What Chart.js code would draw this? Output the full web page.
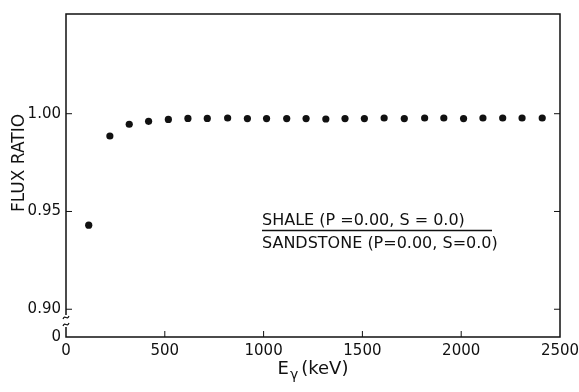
<!DOCTYPE html>
<html>
<head>
<meta charset="utf-8">
<script src="https://cdn.jsdelivr.net/npm/chart.js@4.4.1/dist/chart.umd.min.js"></script>
<style>
  html, body { margin: 0; padding: 0; background: #fff; }
  #wrap { width: 579px; height: 392px; }
</style>
</head>
<body>
<div id="wrap"><canvas id="flux"></canvas></div>
<script>
// Gamma energy (keV) and shale/sandstone flux ratio
const energies = [115, 222, 320, 418, 518, 617, 715, 818, 918, 1015, 1117, 1215,
  1315, 1412, 1510, 1610, 1712, 1815, 1912, 2012, 2110, 2210, 2308, 2410];
const fluxRatio = [0.943, 0.9886, 0.9946, 0.9961, 0.9971, 0.9976, 0.9976, 0.9978,
  0.9975, 0.9975, 0.9975, 0.9975, 0.9973, 0.9975, 0.9975, 0.9978, 0.9975, 0.9978,
  0.9978, 0.9975, 0.9978, 0.9978, 0.9978, 0.9978];

const xTicks = [0, 500, 1000, 1500, 2000, 2500];
const yTicks = [0.90, 0.95, 1.00];
const yBottom = 0.8858;   // broken axis: bottom edge is labelled 0
const yTop = 1.051;

const ink = '#111';
const FONT = "'DejaVu Sans', sans-serif";

// frame, inward tick marks, axis break, ratio caption, axis titles
const decorations = {
  id: 'decorations',
  afterDraw(chart) {
    const { ctx, chartArea: a, scales: { x, y } } = chart;
    ctx.save();
    ctx.strokeStyle = ink;
    ctx.lineWidth = 1.5;

    const gapTop = a.bottom - 22, gapBot = a.bottom - 10;
    ctx.beginPath();
    ctx.moveTo(a.left, gapBot);
    ctx.lineTo(a.left, a.bottom);
    ctx.lineTo(a.right, a.bottom);
    ctx.lineTo(a.right, a.top);
    ctx.lineTo(a.left, a.top);
    ctx.lineTo(a.left, gapTop);
    ctx.stroke();

    // break squiggles
    ctx.lineWidth = 1.2;
    [gapTop + 2, gapBot - 3].forEach(yy => {
      ctx.beginPath();
      ctx.moveTo(a.left - 3, yy + 2);
      ctx.bezierCurveTo(a.left - 1, yy - 3, a.left + 1, yy + 4, a.left + 3, yy - 1);
      ctx.stroke();
    });

    ctx.lineWidth = 1;
    ctx.beginPath();
    xTicks.slice(1, -1).forEach(v => {
      const px = x.getPixelForValue(v);
      ctx.moveTo(px, a.bottom);
      ctx.lineTo(px, a.bottom - 6);
    });
    yTicks.forEach(v => {
      const py = y.getPixelForValue(v);
      ctx.moveTo(a.left, py);
      ctx.lineTo(a.left + 6, py);
      ctx.moveTo(a.right, py);
      ctx.lineTo(a.right - 6, py);
    });
    ctx.stroke();

    // ratio caption
    ctx.fillStyle = ink;
    ctx.font = '16px ' + FONT;
    ctx.textBaseline = 'middle';
    ctx.textAlign = 'left';
    const cx = 262;
    ctx.fillText('SHALE (P =0.00, S = 0.0)', cx, 221);
    ctx.fillText('SANDSTONE (P=0.00, S=0.0)', cx, 244);
    ctx.lineWidth = 1.3;
    ctx.beginPath();
    ctx.moveTo(cx, 230.5);
    ctx.lineTo(cx + 230, 230.5);
    ctx.stroke();

    // x title with subscript gamma
    const mid = (a.left + a.right) / 2;
    ctx.font = '18px ' + FONT;
    const wE = ctx.measureText('E').width;
    ctx.font = '14px ' + FONT;
    const wG = ctx.measureText('γ').width;
    ctx.font = '18px ' + FONT;
    const wK = ctx.measureText('(keV)').width;
    const tx = mid - (wE + wG + wK + 4) / 2;
    ctx.fillText('E', tx, 369);
    ctx.font = '14px ' + FONT;
    ctx.fillText('γ', tx + wE + 1, 375);
    ctx.font = '18px ' + FONT;
    ctx.fillText('(keV)', tx + wE + wG + 4, 369);

    // y title
    ctx.translate(20, 163);
    ctx.rotate(-Math.PI / 2);
    ctx.textAlign = 'center';
    ctx.font = '17px ' + FONT;
    ctx.fillText('FLUX RATIO', 0, 0);
    ctx.restore();
  }
};

new Chart(document.getElementById('flux'), {
  type: 'scatter',
  data: {
    datasets: [{
      data: energies.map((e, i) => ({ x: e, y: fluxRatio[i] })),
      pointRadius: 3.6,
      pointBackgroundColor: ink,
      pointBorderWidth: 0
    }]
  },
  options: {
    responsive: true,
    maintainAspectRatio: false,
    animation: false,
    layout: { padding: { left: 0, right: 19, top: 12, bottom: 0 } },
    plugins: { legend: { display: false }, tooltip: { enabled: false } },
    scales: {
      x: {
        type: 'linear',
        min: 0,
        max: 2500,
        afterBuildTicks: s => { s.ticks = xTicks.map(v => ({ value: v })); },
        afterFit: s => {
          s.height = 55;
          s.paddingLeft = 0;
          s.paddingRight = 0;
        },
        grid: { display: false, drawTicks: false },
        border: { display: false },
        ticks: {
          color: ink,
          padding: 5,
          maxRotation: 0,
          font: { size: 15, family: FONT },
          callback: v => String(v)
        }
      },
      y: {
        min: yBottom,
        max: yTop,
        afterBuildTicks: s => { s.ticks = [yBottom, ...yTicks].map(v => ({ value: v })); },
        afterFit: s => { s.width = 66; },
        grid: { display: false, drawTicks: false },
        border: { display: false },
        ticks: {
          color: ink,
          padding: 5,
          font: { size: 15, family: FONT },
          callback: v => (v === yBottom ? '0' : v.toFixed(2))
        }
      }
    }
  },
  plugins: [decorations]
});
</script>
</body>
</html>
